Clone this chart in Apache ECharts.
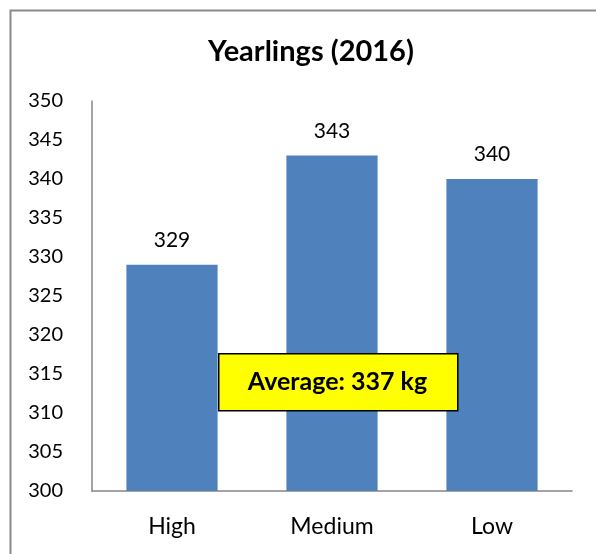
<!DOCTYPE html>
<html>
<head>
<meta charset="utf-8">
<script src="https://cdn.jsdelivr.net/npm/echarts@6/dist/echarts.min.js"></script>
<style>
  html, body { margin: 0; padding: 0; background: #fff; }
  #chart { width: 596px; height: 554px; }
</style>
</head>
<body>
<div id="chart"></div>
<script>
// data
const categories = ["High", "Medium", "Low"];
const weights = [329, 343, 340];
const yTicks = { min: 300, max: 350, step: 5 };
const averageText = "Average: 337 kg";

const font = "Lato, 'Open Sans', sans-serif";

const chart = echarts.init(document.getElementById("chart"));
chart.setOption({
  animation: false,
  title: {
    text: "Yearlings (2016)",
    left: 306,
    top: 32,
    textAlign: "center",
    textStyle: { fontFamily: font, fontSize: 29, fontWeight: "bold", color: "#000" },
  },
  grid: { left: 92, right: 24, top: 101, bottom: 63 },
  xAxis: {
    type: "category",
    data: categories,
    axisLine: { lineStyle: { color: "#868686", width: 1.5 } },
    axisTick: { show: false },
    axisLabel: { color: "#000", fontFamily: font, fontSize: 23, margin: 24 },
  },
  yAxis: {
    type: "value",
    min: yTicks.min,
    max: yTicks.max,
    interval: yTicks.step,
    splitLine: { show: false },
    axisLine: { show: true, lineStyle: { color: "#868686", width: 1.5 } },
    axisTick: { show: false },
    axisLabel: { color: "#000", fontFamily: font, fontSize: 20, margin: 29 },
  },
  series: [
    {
      type: "bar",
      data: weights,
      barWidth: "57%",
      itemStyle: { color: "#4F81BD" },
      label: {
        show: true,
        position: "top",
        distance: 14,
        color: "#000",
        fontFamily: font,
        fontSize: 21,
      },
    },
  ],
  graphic: [
    {
      type: "rect",
      left: 8,
      top: 8,
      shape: { x: 0, y: 0, width: 700, height: 700 },
      style: { fill: "none", stroke: "#8a8a8a", lineWidth: 2 },
      silent: true,
    },
    {
      type: "rect",
      left: 218,
      top: 353,
      z: 100,
      shape: { x: 0, y: 0, width: 239, height: 57 },
      style: { fill: "#FFFF00", stroke: "#000", lineWidth: 1.5 },
    },
    {
      type: "text",
      x: 337.5,
      y: 382,
      z: 101,
      style: {
        text: averageText,
        fill: "#000",
        font: "bold 25px " + font,
        textAlign: "center",
        textVerticalAlign: "middle",
      },
    },
  ],
});
</script>
</body>
</html>
